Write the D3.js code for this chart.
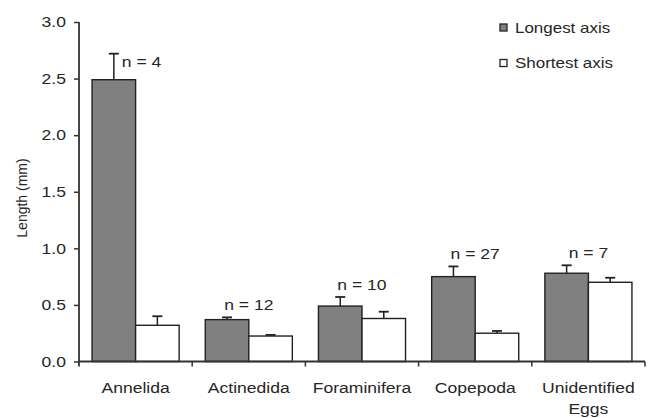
<!DOCTYPE html>
<html>
<head>
<meta charset="utf-8">
<script src="https://cdn.jsdelivr.net/npm/d3@7"></script>
<style>
  body { margin: 0; background: #fff; }
  text { font-family: "Liberation Sans", Arial, sans-serif; fill: #262626; }
</style>
</head>
<body>
<div id="chart"></div>
<script>
var categories = ['Annelida', 'Actinedida', 'Foraminifera', 'Copepoda', 'Unidentified Eggs'];
var seriesNames = ['Longest axis', 'Shortest axis'];
var longest = [2.49, 0.37, 0.49, 0.75, 0.78];
var longestErr = [0.23, 0.02, 0.08, 0.09, 0.07];
var shortest = [0.32, 0.225, 0.38, 0.25, 0.70];
var shortestErr = [0.08, 0.01, 0.06, 0.02, 0.04];
var sampleSizes = [4, 12, 10, 27, 7];
var yTicks = [0, 0.5, 1.0, 1.5, 2.0, 2.5, 3.0];

var width = 648, height = 418;
var margin = {top: 22, right: 3, bottom: 56, left: 79};
var stretch = 1.17; // the source text is a bit wider than Arial

var svg = d3.select('#chart').append('svg')
  .attr('width', width)
  .attr('height', height);

var x0 = d3.scaleBand()
  .domain(categories)
  .range([margin.left, width - margin.right])
  .padding(0);

var x1 = d3.scaleBand()
  .domain(seriesNames)
  .range([0, x0.bandwidth()])
  .paddingInner(0)
  .paddingOuter(0.3);

var y = d3.scaleLinear()
  .domain([0, 3])
  .range([height - margin.bottom - 0.5, margin.top]);

var fills = {'Longest axis': '#808080', 'Shortest axis': '#ffffff'};

function wideText(g, x, yPos, str, size, anchor) {
  return g.append('text')
    .attr('transform', 'translate(' + x + ',' + yPos + ') scale(' + stretch + ',1)')
    .attr('text-anchor', anchor || 'middle')
    .style('font-size', size + 'px')
    .text(str);
}

// y axis
var yAxis = d3.axisLeft(y)
  .tickValues(yTicks)
  .tickFormat(d3.format('.1f'))
  .tickSize(5)
  .tickSizeOuter(0);

var yg = svg.append('g')
  .attr('transform', 'translate(' + margin.left + ',0)')
  .call(yAxis);
yg.select('.domain').remove();
yg.selectAll('.tick line').attr('stroke', '#333').attr('stroke-width', 1.5);
yg.selectAll('.tick text').remove();
yg.append('line')
  .attr('x1', 0).attr('x2', 0)
  .attr('y1', y(3)).attr('y2', y(0) + 5)
  .attr('stroke', '#333').attr('stroke-width', 1.8);
yTicks.forEach(function (t) {
  wideText(svg, margin.left - 13, y(t) + 5.3, d3.format('.1f')(t), 15, 'end');
});

// y label
svg.append('text')
  .attr('transform', 'translate(27,198) rotate(-90)')
  .attr('text-anchor', 'middle')
  .style('font-size', '14px')
  .text('Length (mm)');

// bars
var rows = categories.map(function (c, i) {
  return {
    cat: c,
    vals: [
      {s: seriesNames[0], v: longest[i], e: longestErr[i]},
      {s: seriesNames[1], v: shortest[i], e: shortestErr[i]}
    ]
  };
});

var groups = svg.selectAll('g.grp')
  .data(rows)
  .enter().append('g')
  .attr('class', 'grp')
  .attr('transform', function (d) { return 'translate(' + x0(d.cat) + ',0)'; });

// error bars (upper only), drawn before bars
groups.selectAll('g.err')
  .data(function (d) { return d.vals; })
  .enter().append('g')
  .attr('class', 'err')
  .each(function (d) {
    var cx = x1(d.s) + x1.bandwidth() / 2;
    var g = d3.select(this);
    g.append('line')
      .attr('x1', cx).attr('x2', cx)
      .attr('y1', y(d.v)).attr('y2', y(d.v + d.e))
      .attr('stroke', '#222').attr('stroke-width', 1.5);
    g.append('line')
      .attr('x1', cx - 5).attr('x2', cx + 5)
      .attr('y1', y(d.v + d.e)).attr('y2', y(d.v + d.e))
      .attr('stroke', '#222').attr('stroke-width', 1.8);
  });

groups.selectAll('rect')
  .data(function (d) { return d.vals; })
  .enter().append('rect')
  .attr('x', function (d) { return x1(d.s); })
  .attr('y', function (d) { return y(d.v); })
  .attr('width', x1.bandwidth())
  .attr('height', function (d) { return y(0) - y(d.v); })
  .attr('fill', function (d) { return fills[d.s]; })
  .attr('stroke', '#222')
  .attr('stroke-width', 1.4);

// x axis
svg.append('line')
  .attr('x1', margin.left).attr('x2', width - margin.right)
  .attr('y1', y(0)).attr('y2', y(0))
  .attr('stroke', '#333').attr('stroke-width', 1.8);
var bounds = categories.map(function (c) { return x0(c); }).concat([x0.range()[1]]);
svg.selectAll('line.xtick')
  .data(bounds.slice(1))
  .enter().append('line')
  .attr('class', 'xtick')
  .attr('x1', function (d) { return d; }).attr('x2', function (d) { return d; })
  .attr('y1', y(0)).attr('y2', y(0) + 5)
  .attr('stroke', '#333').attr('stroke-width', 1.5);

categories.forEach(function (c) {
  var cx = x0(c) + x0.bandwidth() / 2;
  var words = c.split(' ');
  words.forEach(function (w, k) {
    wideText(svg, cx, 393 + k * 21, w, 15, 'middle');
  });
});

// n labels
rows.forEach(function (r, i) {
  var top = d3.max(r.vals, function (d) { return d.v + d.e; });
  var label = 'n = ' + sampleSizes[i];
  if (i === 0) {
    var cx = x0(r.cat) + x1(seriesNames[0]) + x1.bandwidth() / 2;
    wideText(svg, cx + 8, y(top) + 13, label, 15, 'start');
  } else {
    wideText(svg, x0(r.cat) + x0.bandwidth() / 2, y(top) - 7, label, 15, 'middle');
  }
});

// legend
var legend = svg.append('g').attr('transform', 'translate(500,0)');
seriesNames.forEach(function (s, i) {
  var cy = 27.5 + i * 35.5;
  legend.append('rect')
    .attr('x', 0).attr('y', cy - 3.5)
    .attr('width', 7).attr('height', 7)
    .attr('fill', fills[s])
    .attr('stroke', '#222').attr('stroke-width', 1.3);
  wideText(legend, 15, cy + 5, s, 14.5, 'start');
});
</script>
</body>
</html>
